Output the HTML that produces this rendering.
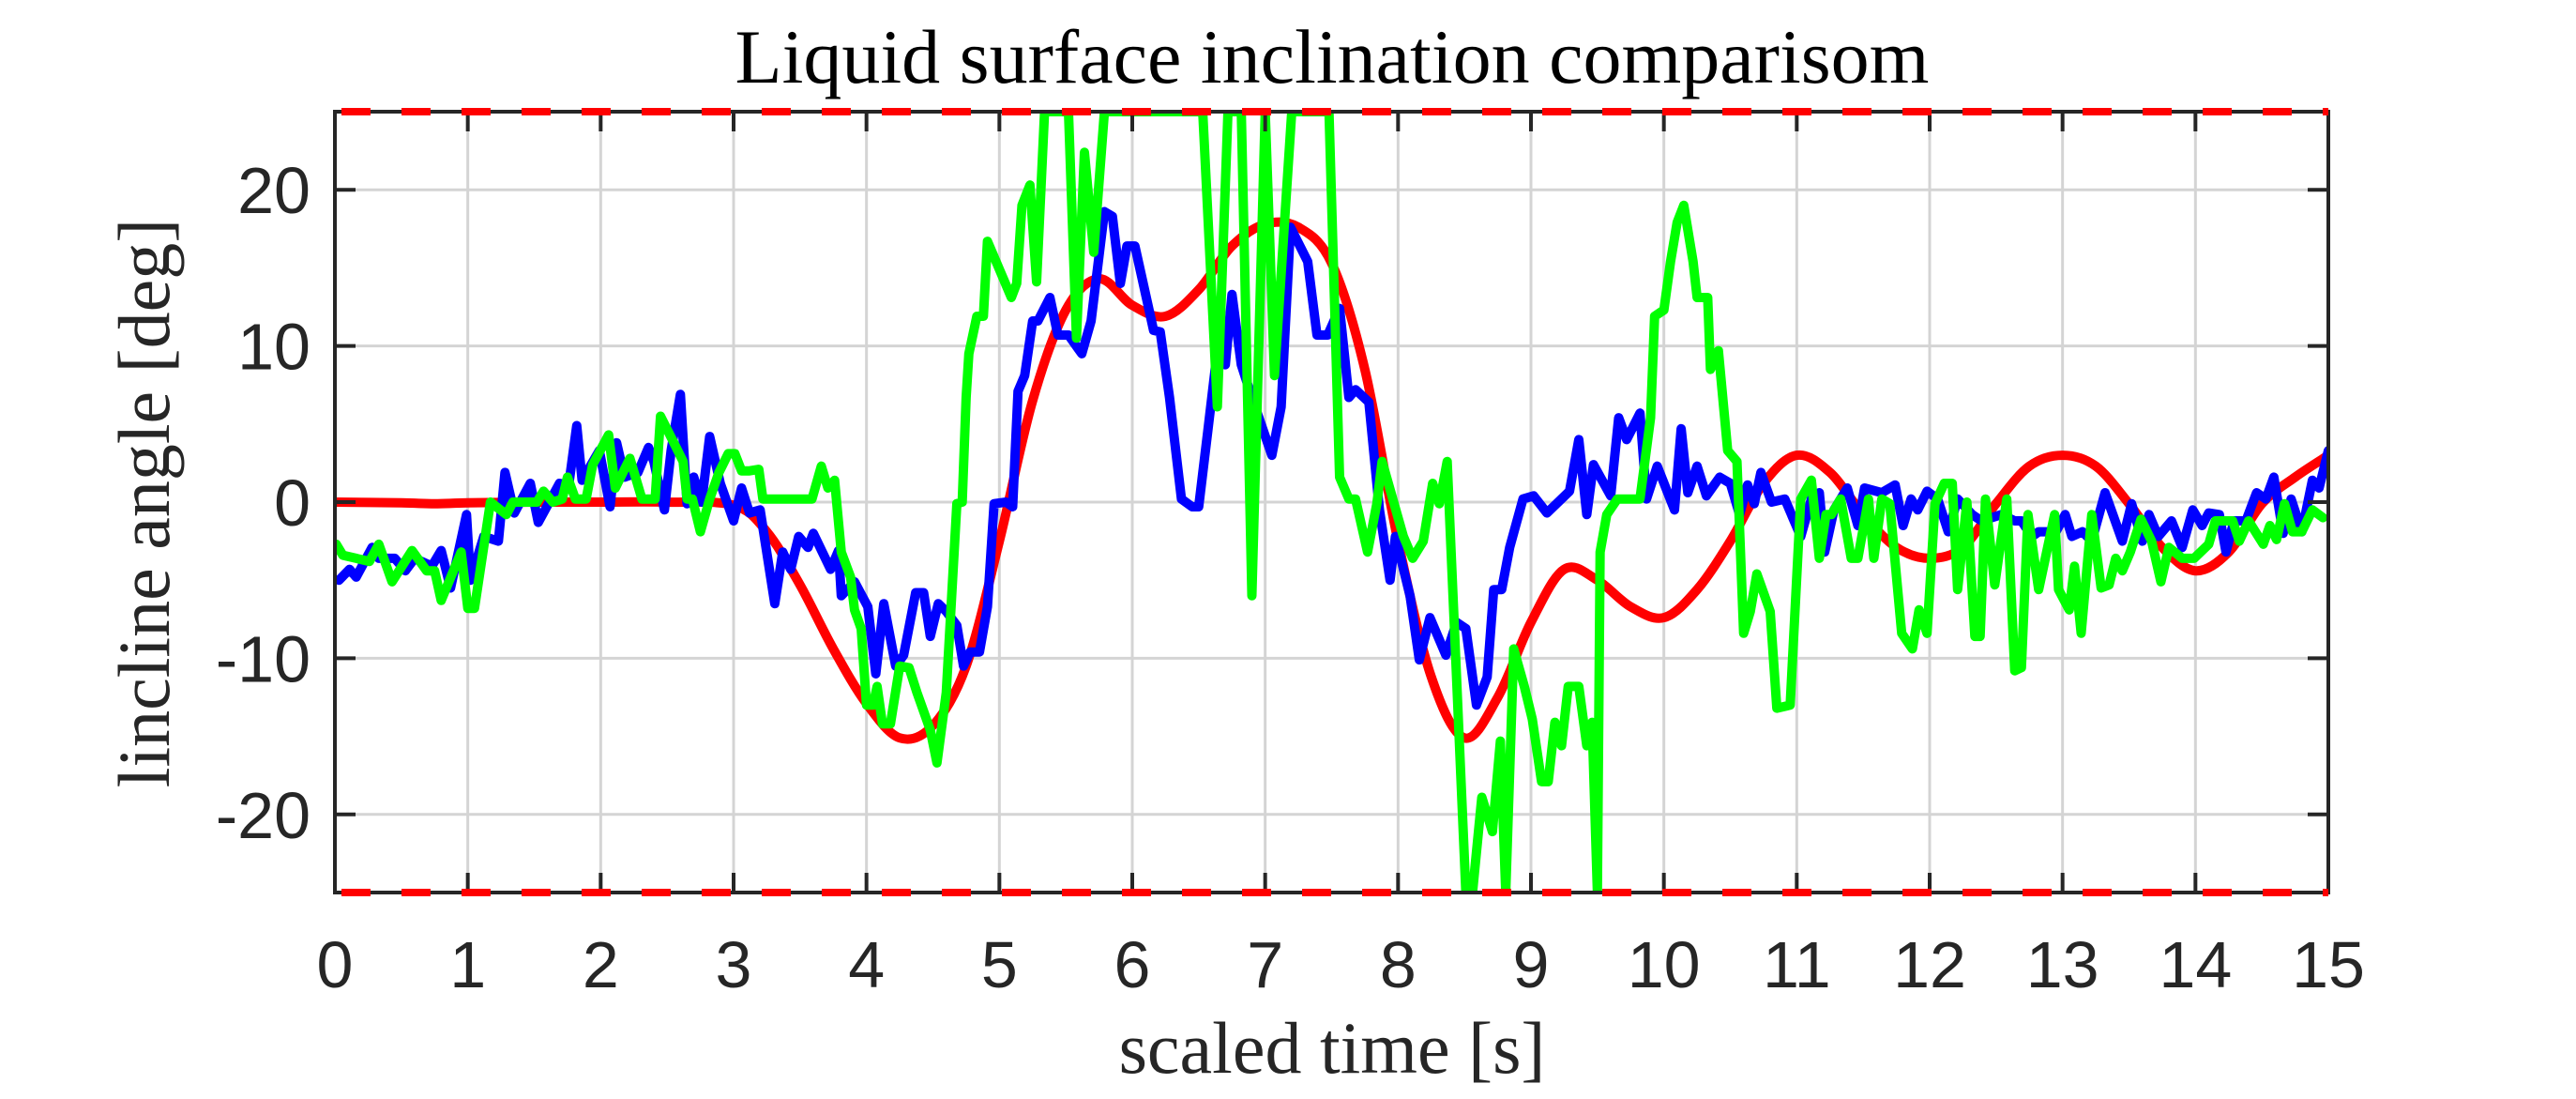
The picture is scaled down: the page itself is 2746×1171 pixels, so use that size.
<!DOCTYPE html>
<html><head><meta charset="utf-8"><style>
html,body{margin:0;padding:0;background:#fff;}
svg{display:block;}
</style></head><body>
<svg id="chart" width="2746" height="1171" viewBox="0 0 2746 1171" xmlns="http://www.w3.org/2000/svg">
<defs><clipPath id="clip"><rect x="357" y="119" width="2125" height="832"/></clipPath></defs>
<rect width="2746" height="1171" fill="#fff"/>
<g id="grid"></g>
<g id="series" clip-path="url(#clip)"></g>
<g id="axes"></g>
<text x="1420" y="88" text-anchor="middle" font-family="'Liberation Serif', serif" font-size="82" fill="#000">Liquid surface inclination comparisom</text>
<text x="1420" y="1143" text-anchor="middle" font-family="'Liberation Serif', serif" font-size="78" fill="#262626">scaled time [s]</text>
<text transform="translate(180,536) rotate(-90)" text-anchor="middle" font-family="'Liberation Serif', serif" font-size="78" fill="#262626">lincline angle [deg]</text>
</svg>
<script>
const xTicks=[0,1,2,3,4,5,6,7,8,9,10,11,12,13,14,15];
const yTicks=[-20,-10,0,10,20];
const limitValues=[25,-25];
const redT=[0,0.5,0.75,1,1.5,2,2.5,3,3.25,3.5,3.75,4,4.25,4.5,4.75,5,5.25,5.5,5.75,6,6.25,6.5,6.75,7,7.25,7.5,7.75,8,8.25,8.5,8.75,9,9.25,9.5,9.75,10,10.25,10.5,10.75,11,11.25,11.5,11.75,12,12.25,12.5,12.75,13,13.25,13.5,13.75,14,14.25,14.5,14.75,15];
const redV=[0,-0.05,-0.1,-0.05,0,0,0,-0.2,-1.9,-5.3,-9.4,-12.9,-15.1,-14.3,-10.5,-2.5,6.5,12.3,14.3,12.6,11.9,13.6,16.4,17.8,17.6,15.3,8.5,-2.5,-11.2,-15.1,-12.5,-7.7,-4.3,-5,-6.7,-7.4,-5.6,-2.5,1.2,3.0,1.9,-0.8,-2.9,-3.6,-2.9,-0.1,2.3,3.0,2.3,-0.1,-2.9,-4.4,-3.2,-0.1,1.6,3.0];
const blueT=[0.03,0.11,0.16,0.28,0.33,0.45,0.53,0.6,0.73,0.8,0.87,0.99,1.02,1.12,1.23,1.28,1.35,1.47,1.53,1.69,1.76,1.82,1.86,1.99,2.07,2.12,2.18,2.28,2.36,2.4,2.48,2.53,2.6,2.65,2.7,2.76,2.82,2.9,3.0,3.06,3.12,3.2,3.31,3.37,3.43,3.49,3.56,3.6,3.73,3.79,3.81,3.91,4.01,4.07,4.13,4.22,4.28,4.37,4.43,4.48,4.54,4.6,4.68,4.73,4.78,4.85,4.91,4.96,5.05,5.1,5.14,5.19,5.25,5.29,5.38,5.44,5.52,5.62,5.69,5.79,5.85,5.91,5.96,6.02,6.16,6.21,6.28,6.37,6.45,6.5,6.57,6.63,6.7,6.75,6.82,6.9,7.05,7.12,7.19,7.32,7.39,7.47,7.56,7.63,7.68,7.78,7.86,7.94,7.98,8.09,8.16,8.24,8.36,8.44,8.51,8.59,8.67,8.72,8.78,8.84,8.94,9.02,9.12,9.29,9.36,9.42,9.47,9.6,9.66,9.72,9.82,9.87,9.95,10.08,10.13,10.18,10.25,10.32,10.42,10.5,10.57,10.63,10.68,10.73,10.81,10.91,11.03,11.11,11.17,11.21,11.28,11.38,11.46,11.51,11.64,11.74,11.8,11.86,11.91,11.98,12.06,12.14,12.21,12.32,12.39,12.54,12.64,12.69,12.77,12.82,12.9,12.95,13.02,13.07,13.15,13.22,13.32,13.45,13.52,13.6,13.65,13.72,13.82,13.9,13.98,14.05,14.1,14.18,14.23,14.29,14.38,14.46,14.53,14.59,14.66,14.72,14.8,14.88,14.93,15.0];
const blueV=[-5.0,-4.3,-4.8,-2.9,-3.6,-3.6,-4.4,-3.6,-4.1,-3.1,-5.5,-0.8,-5.0,-2.2,-2.5,1.9,-0.7,1.2,-1.3,1.2,1.1,4.9,1.4,3.3,-0.3,3.8,1.6,1.9,3.5,2.6,-0.5,3.3,6.9,-0.1,1.6,0,4.2,1.2,-1.2,0.9,-0.7,-0.5,-6.5,-3.2,-4.3,-2.2,-2.9,-2.0,-4.3,-3.1,-6.0,-5.1,-6.7,-11,-6.5,-10.5,-9.8,-5.8,-5.8,-8.6,-6.5,-7.0,-7.9,-10.5,-9.6,-9.6,-6.7,-0.1,0,-0.3,7.1,8.1,11.6,11.6,13.1,10.7,10.7,9.5,11.6,18.6,18.3,14.0,16.4,16.4,11.0,10.9,6.7,0.2,-0.3,-0.3,4.7,9.0,8.8,13.3,8.8,6.7,3.0,6.1,17.6,15.4,10.7,10.7,12.4,6.7,7.2,6.4,-0.5,-5.0,-2.2,-6.0,-10.1,-7.4,-9.8,-7.7,-8.1,-13.0,-11.2,-5.6,-5.6,-2.9,0.2,0.4,-0.7,0.7,4.0,-0.8,2.4,0.4,5.4,4.0,5.7,0.2,2.3,-0.5,4.7,0.6,2.3,0.4,1.6,1.2,-0.8,1.1,-0.1,1.9,0,0.2,-2.2,0.2,0.6,-3.2,-0.5,0.9,-1.5,0.9,0.6,1.1,-1.5,0.2,-0.5,0.7,0.2,-1.9,0.2,-0.8,-1.2,-0.8,-1.2,-1.2,-2.2,-1.9,-1.9,-1.9,-0.8,-2.2,-1.9,-2.5,0.6,-2.5,-0.1,-2.5,-0.8,-2.2,-1.2,-2.9,-0.5,-1.5,-0.7,-0.8,-3.2,-1.2,-1.2,0.6,0.2,1.6,-2.0,0.2,-1.9,1.4,0.9,3.3];
const greenT=[0.01,0.06,0.16,0.26,0.33,0.43,0.58,0.69,0.75,0.8,0.95,1.0,1.05,1.17,1.29,1.34,1.52,1.57,1.64,1.71,1.75,1.81,1.89,1.94,2.06,2.11,2.22,2.31,2.41,2.45,2.55,2.62,2.65,2.69,2.75,2.82,2.89,2.96,3.01,3.06,3.12,3.19,3.22,3.59,3.66,3.71,3.76,3.81,3.88,3.91,3.96,4.0,4.05,4.08,4.12,4.18,4.25,4.32,4.38,4.48,4.53,4.6,4.68,4.72,4.75,4.77,4.83,4.88,4.91,5.09,5.13,5.17,5.23,5.28,5.34,5.52,5.58,5.64,5.71,5.79,6.53,6.64,6.72,6.82,6.9,7.0,7.07,7.2,7.44,7.48,7.56,7.63,7.68,7.77,7.84,7.88,7.96,8.04,8.11,8.19,8.26,8.31,8.37,8.51,8.56,8.63,8.71,8.77,8.81,8.87,8.95,9.01,9.08,9.13,9.18,9.23,9.28,9.36,9.42,9.46,9.5,9.52,9.57,9.65,9.82,9.9,9.93,10.0,10.05,10.1,10.15,10.22,10.25,10.33,10.35,10.41,10.48,10.55,10.6,10.65,10.7,10.8,10.85,10.95,11.03,11.11,11.17,11.22,11.26,11.33,11.41,11.46,11.54,11.58,11.64,11.7,11.79,11.87,11.92,11.98,12.04,12.11,12.17,12.21,12.28,12.34,12.38,12.42,12.49,12.58,12.64,12.69,12.74,12.82,12.94,12.97,13.05,13.09,13.14,13.22,13.29,13.35,13.4,13.45,13.51,13.59,13.67,13.74,13.8,13.9,13.99,14.1,14.15,14.28,14.33,14.4,14.51,14.56,14.61,14.67,14.73,14.8,14.88,14.96];
const greenV=[-2.7,-3.4,-3.6,-3.8,-2.7,-5.1,-3.1,-4.4,-4.4,-6.3,-3.2,-6.8,-6.8,0,-0.8,0,0,0.7,0,0.2,1.6,0.2,0.2,2.4,4.3,0.9,2.8,0.2,0.2,5.5,3.8,2.6,0.2,0.2,-1.9,0.2,1.9,3.1,3.1,2.0,2.0,2.1,0.2,0.2,2.3,0.9,1.4,-3.2,-4.8,-6.9,-8.1,-13.0,-13.0,-11.8,-14.2,-14.2,-10.5,-10.6,-12.2,-14.6,-16.7,-12.2,-0.1,0,6.7,9.5,11.9,11.9,16.7,13.1,14.0,19.0,20.3,14.1,25,25,10.5,22.4,16.0,25,25,6.1,25,25,-6.0,25,8.1,25,25,25,1.6,0.2,0.2,-3.2,-0.1,2.6,0.2,-2.2,-3.6,-2.5,1.2,-0.1,2.6,-25,-25,-18.9,-21.1,-15.3,-25,-9.4,-11.8,-13.9,-17.9,-17.9,-14.1,-15.6,-11.8,-11.8,-15.6,-14.1,-25,-3.2,-0.8,0.2,0.2,5.4,11.9,12.3,15.4,17.9,19.0,15.4,13.1,13.1,8.5,9.7,3.3,2.6,-8.4,-7.0,-4.6,-7.0,-13.2,-13.0,0.2,1.4,-3.6,-0.8,-0.8,0.2,-3.6,-3.6,0.2,-3.6,0.2,-0.1,-8.4,-9.4,-6.9,-8.4,-0.1,1.2,1.2,-5.6,0,-8.6,-8.6,0.2,-5.3,0.2,-10.8,-10.6,-0.8,-5.6,-0.8,-5.6,-6.9,-4.1,-8.4,-0.8,-5.5,-5.3,-3.6,-4.4,-3.2,-1.1,-2.5,-5.1,-2.9,-3.6,-3.6,-2.7,-1.2,-1.2,-2.5,-1.2,-2.7,-1.5,-2.4,-0.1,-1.9,-1.9,-0.5,-1.0];

const X0=357,X1=2482,Y0=951,Y1=119,XMIN=0,XMAX=15,YMIN=-25,YMAX=25;
const NS='http://www.w3.org/2000/svg';
function sx(t){return X0+(t-XMIN)/(XMAX-XMIN)*(X1-X0);}
function sy(v){return Y0-(v-YMIN)/(YMAX-YMIN)*(Y0-Y1);}
function mk(tag,attrs,parent){const e=document.createElementNS(NS,tag);for(const k in attrs)e.setAttribute(k,attrs[k]);parent.appendChild(e);return e;}
const grid=document.getElementById('grid'),axes=document.getElementById('axes'),series=document.getElementById('series');
xTicks.forEach(t=>{
  const g=mk('line',{x1:sx(t),x2:sx(t),y1:Y1,y2:Y0,stroke:'#d4d4d4','stroke-width':3},grid);
  
  
  mk('line',{x1:sx(t),x2:sx(t),y1:Y0,y2:Y0-21,stroke:'#262626','stroke-width':4},axes);
  mk('line',{x1:sx(t),x2:sx(t),y1:Y1,y2:Y1+21,stroke:'#262626','stroke-width':4},axes);
  const l=mk('text',{x:sx(t),y:1052,'text-anchor':'middle','font-family':"'Liberation Sans',sans-serif",'font-size':70,fill:'#262626'},axes);
  l.textContent=t;
  
  
});
yTicks.forEach(v=>{
  const g=mk('line',{x1:X0,x2:X1,y1:sy(v),y2:sy(v),stroke:'#d4d4d4','stroke-width':3},grid);
  
  
  mk('line',{x1:X0,x2:X0+22,y1:sy(v),y2:sy(v),stroke:'#262626','stroke-width':4},axes);
  mk('line',{x1:X1,x2:X1-22,y1:sy(v),y2:sy(v),stroke:'#262626','stroke-width':4},axes);
  const l=mk('text',{x:331,y:sy(v)+25,'text-anchor':'end','font-family':"'Liberation Sans',sans-serif",'font-size':70,fill:'#262626'},axes);
  l.textContent=v;
  
  
});
const box=mk('rect',{x:X0,y:Y1,width:X1-X0,height:Y0-Y1,fill:'none',stroke:'#262626','stroke-width':4},axes);


function line(T,V,color,name,smooth){
  const P=T.map((t,i)=>[sx(t),sy(V[i])]);
  let d='M'+P[0][0].toFixed(1)+' '+P[0][1].toFixed(1);
  for(let i=1;i<P.length;i++){
    if(smooth){
      const p0=P[Math.max(0,i-2)],p1=P[i-1],p2=P[i],p3=P[Math.min(P.length-1,i+1)];
      const c1=[p1[0]+(p2[0]-p0[0])/6,p1[1]+(p2[1]-p0[1])/6],c2=[p2[0]-(p3[0]-p1[0])/6,p2[1]-(p3[1]-p1[1])/6];
      d+=' C'+c1[0].toFixed(1)+' '+c1[1].toFixed(1)+' '+c2[0].toFixed(1)+' '+c2[1].toFixed(1)+' '+p2[0].toFixed(1)+' '+p2[1].toFixed(1);
    } else d+=' L'+P[i][0].toFixed(1)+' '+P[i][1].toFixed(1);
  }
  const p=mk('path',{d:d,fill:'none',stroke:color,'stroke-width':10,'stroke-linejoin':'round','stroke-linecap':'round'},series);
  
  
}
line(redT,redV,'#ff0000','reference-line',true);
line(blueT,blueV,'#0000ff','measured-line',false);
line(greenT,greenV,'#00ff00','estimated-line',false);
limitValues.forEach(v=>{
  const l=mk('line',{x1:X0,x2:X1,y1:sy(v),y2:sy(v),stroke:'#ff0000','stroke-width':8,'stroke-dasharray':'31 33','stroke-dashoffset':-7},axes);
  
  
});
</script>
</body></html>
